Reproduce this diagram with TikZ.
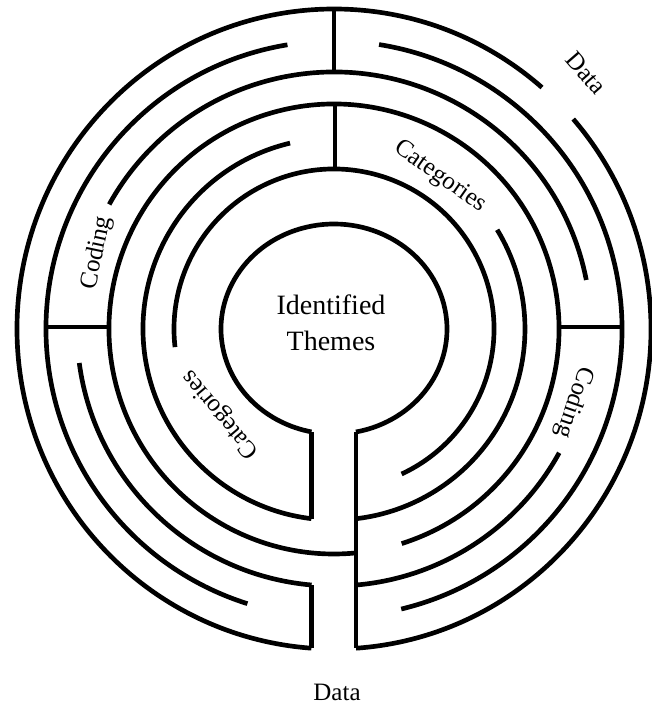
\documentclass[tikz,border=0pt]{standalone}
\usepackage{fontspec}
\setmainfont{Liberation Serif}
\begin{document}
\begin{tikzpicture}[x=0.75pt,y=0.75pt,
  ring/.style={line width=3.5pt},
  wall/.style={line width=2.4pt},
  lbl/.style={font=\fontsize{18.75}{22}\selectfont, inner sep=0pt},
  core/.style={font=\fontsize{21}{27}\selectfont, align=center, inner sep=0pt},
]
\useasboundingbox[fill=white] (-334,-375) rectangle (317,329);

% outer wall (slightly taller than wide), open at the upper right and at the bottom
\draw[ring] ({317*cos(-86)},{320*sin(-86)}) arc[start angle=-86, end angle=41, x radius=317, y radius=320];
\draw[ring] ({317*cos(49)},{320*sin(49)}) arc[start angle=49, end angle=265.9, x radius=317, y radius=320];

% ring 1
\draw[ring] (99.3:288) arc[start angle=99.3, end angle=252.5, radius=288];
\draw[ring] (-76.5:288) arc[start angle=-76.5, end angle=81, radius=288];

% ring 2
\draw[ring] (11:257) arc[start angle=11, end angle=151, radius=257];
\draw[ring] (187.6:257) arc[start angle=187.6, end angle=265, radius=257];
\draw[ring] (-85.1:257) arc[start angle=-85.1, end angle=-28.8, radius=257];

% ring 3, crossing the central passage
\draw[ring] (-72.5:225) arc[start angle=-72.5, end angle=275.6, radius=225];

% ring 4
\draw[ring] (103.3:191) arc[start angle=103.3, end angle=263.2, radius=191];
\draw[ring] (-83.4:191) arc[start angle=-83.4, end angle=31.3, radius=191];

% ring 5
\draw[ring] (-65:160) arc[start angle=-65, end angle=186.5, radius=160];

% centre enclosure
\draw[ring] ({113*cos(-78.8)},{105*sin(-78.8)}) arc[start angle=-78.8, end angle=258.5, x radius=113, y radius=105];

% wall end points
\coordinate (t0) at (0,320);
\coordinate (t2) at (0,257);
\coordinate (t3) at (1,225);
\coordinate (t5) at (1,160);
\coordinate (hl1) at (-288,2);
\coordinate (hl3) at (-225,2);
\coordinate (hr3) at (225,2);
\coordinate (hr1) at (288,2);
\coordinate (li) at (-22.5,-102.9);
\coordinate (l4) at (-22.5,-189.7);
\coordinate (l2) at (-22.5,-256);
\coordinate (l0) at (-22.5,-319.2);
\coordinate (ri) at (22,-103.1);
\coordinate (r0) at (22,-319.2);

% cross walls
\draw[wall] (t0) -- (t2);
\draw[wall] (t3) -- (t5);
\draw[wall] (hl1) -- (hl3);
\draw[wall] (hr3) -- (hr1);
\draw[ring] (li) -- (l4);
\draw[ring] (l2) -- (l0);
\draw[ring] (ri) -- (r0);

% labels
\node[core] (themes) at (-3,6) {Identified\\Themes};
\node[lbl] (dataBot) at (3,-363) {Data};
\node[lbl, rotate=-49] (dataTop) at (252,256) {Data};
\node[lbl, rotate=-35] (catTop) at (106,152) {Categories};
\node[lbl, rotate=130] (catLow) at (-113,-85) {Categories};
\node[lbl, rotate=78] (codeL) at (-237,76) {Coding};
\node[lbl, rotate=-109] (codeR) at (240,-73) {Coding};
\end{tikzpicture}
\end{document}
